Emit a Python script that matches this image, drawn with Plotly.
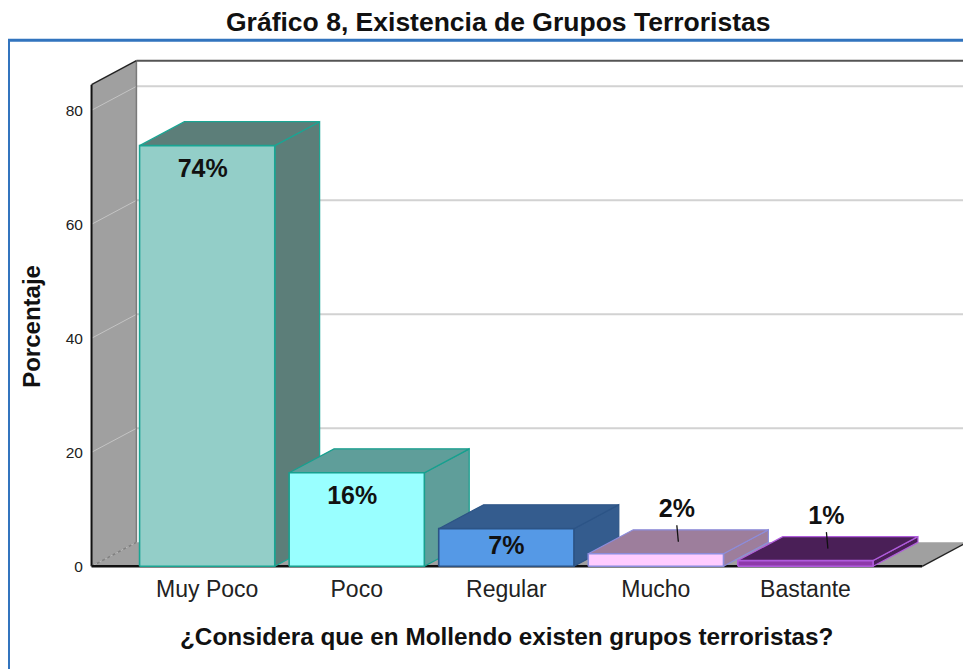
import plotly.graph_objects as go

# ---------------- data ----------------
categories = ["Muy Poco", "Poco", "Regular", "Mucho", "Bastante"]
values = [73.8, 16.4, 6.6, 2.2, 1.0]
labels = ["74%", "16%", "7%", "2%", "1%"]
y_ticks = [0, 20, 40, 60, 80]

title_text = "Gráfico 8, Existencia de Grupos Terroristas"
x_title = "¿Considera que en Mollendo existen grupos terroristas?"
y_title = "Porcentaje"

# ---------------- styles ----------------
front_colors = ["#93CEC8", "#99FFFF", "#5599E6", "#FFCCFF", "#8E3AAA"]
face_colors = ["#5C7E79", "#5F9E9A", "#345C8E", "#9D7E9C", "#4A1F57"]
edge_colors = ["#1AA593", "#17A08F", "#2C5486", "#8C8CDC", "#B05CDC"]
FONT = "Liberation Sans, Arial, sans-serif"

PAGE_W, PAGE_H = 971, 669
OFF = 8                           # default page body margin
W, H = PAGE_W - OFF, PAGE_H - OFF
PX_X, PX_Y = 149.5, 5.7          # pixels per data unit
X_RANGE = [-0.79, 5.1]
Y_RANGE = [-0.3, 89.0]
HW = 0.452                        # half bar width (category units)
DX, DY = 0.30, 4.2                # 3-D depth offset (data units)
WX0, WX1, WTOP = -0.773, 5.08, 84.5

plot_w = (X_RANGE[1] - X_RANGE[0]) * PX_X
plot_h = (Y_RANGE[1] - Y_RANGE[0]) * PX_Y
ml = (92 - OFF) - (WX0 - X_RANGE[0]) * PX_X
mb = H - ((566 - OFF) + (0 - Y_RANGE[0]) * PX_Y)
mr = W - ml - plot_w
mt = H - mb - plot_h


def px_x(p):
    return (p - OFF - ml) / plot_w


def px_y(p):
    return (H - mb - (p - OFF)) / plot_h


fig = go.Figure()


def poly(pts, fill, line_color=None, lw=0):
    xs = [p[0] for p in pts] + [pts[0][0]]
    ys = [p[1] for p in pts] + [pts[0][1]]
    fig.add_trace(go.Scatter(
        x=xs, y=ys, mode="lines", fill="toself", fillcolor=fill,
        line=dict(color=line_color or fill, width=lw),
        hoverinfo="skip", showlegend=False))


def seg(p0, p1, color, lw, dash="solid"):
    fig.add_trace(go.Scatter(
        x=[p0[0], p1[0]], y=[p0[1], p1[1]], mode="lines",
        line=dict(color=color, width=lw, dash=dash),
        hoverinfo="skip", showlegend=False))


# back wall
poly([(WX0 + DX, DY), (WX1, DY), (WX1, WTOP + DY), (WX0 + DX, WTOP + DY)], "#FFFFFF")
for v in y_ticks[1:]:
    seg((WX0 + DX, v + DY), (WX1, v + DY), "#D2D2D2", 2)
seg((WX0 + DX, WTOP + DY), (WX1, WTOP + DY), "#555555", 2)
seg((WX1, DY), (WX1, WTOP + DY), "#8A8A8A", 2.5)

# left wall
poly([(WX0, 0), (WX0, WTOP), (WX0 + DX, WTOP + DY), (WX0 + DX, DY)], "#A0A0A0")
for v in y_ticks[1:]:
    seg((WX0, v), (WX0 + DX, v + DY), "#C4C4C4", 1)
seg((WX0 + DX, DY), (WX0 + DX, WTOP + DY), "#7A7A7A", 1.5)
seg((WX0, WTOP), (WX0 + DX, WTOP + DY), "#222222", 1.5)
seg((WX0, 0), (WX0, WTOP), "#111111", 2)

# floor
poly([(WX0, 0), (WX1 - DX, 0), (WX1, DY), (WX0 + DX, DY)], "#A0A0A0")
seg((WX0, 0), (WX0 + DX, DY), "#808080", 1.5, "dot")
seg((WX1 - DX, 0), (WX1, DY), "#222222", 1.5)
seg((WX0, 0), (WX1 - DX, 0), "#111111", 2.5)

# bars
for i, v in enumerate(values):
    c = i
    ec = edge_colors[i]
    poly([(c + HW, 0), (c + HW + DX, DY), (c + HW + DX, v + DY), (c + HW, v)],
         face_colors[i], ec, 1.2)
    poly([(c - HW, v), (c + HW, v), (c + HW + DX, v + DY), (c - HW + DX, v + DY)],
         face_colors[i], ec, 1.2)
    poly([(c - HW, 0), (c + HW, 0), (c + HW, v), (c - HW, v)],
         front_colors[i], ec, 1.6)

# value labels
lx, ly = [], []
for i, v in enumerate(values):
    if v >= 10:
        lx.append(i - 0.03)
        ly.append(v - 4.4)
    elif v >= 5:
        lx.append(i)
        ly.append(v / 2)
    else:
        x0 = i + DX / 2
        y0 = v + DY / 2
        seg((x0, y0), (x0 - 0.01, y0 + 2.9), "#111111", 1.3)
        lx.append(x0 - 0.01)
        ly.append(y0 + 2.9 + 2.6)

fig.add_trace(go.Scatter(
    x=lx, y=ly, mode="text", text=[f"<b>{t}</b>" for t in labels],
    textposition="middle center",
    textfont=dict(family=FONT, size=25, color="#111111"),
    hoverinfo="skip", showlegend=False, cliponaxis=False))

fig.update_layout(
    width=W, height=H,
    margin=dict(l=ml, r=mr, t=mt, b=mb, pad=0, autoexpand=False),
    paper_bgcolor="white", plot_bgcolor="white",
    font=dict(family=FONT, color="#222222"),
    xaxis=dict(range=X_RANGE, showgrid=False, zeroline=False, showline=False,
               tickvals=list(range(len(categories))), ticktext=categories,
               ticks="outside", ticklen=0, tickcolor="rgba(0,0,0,0)",
               tickfont=dict(family=FONT, size=23, color="#222222"),
               fixedrange=True),
    yaxis=dict(range=Y_RANGE, showgrid=False, zeroline=False, showline=False,
               tickvals=y_ticks, ticks="outside", ticklen=2,
               tickcolor="rgba(0,0,0,0)",
               tickfont=dict(family=FONT, size=15.5, color="#222222"),
               fixedrange=True),
    shapes=[dict(type="rect", xref="paper", yref="paper",
                 x0=px_x(9), x1=px_x(990), y0=px_y(700), y1=px_y(40),
                 line=dict(color="#3274BE", width=3), fillcolor="rgba(0,0,0,0)",
                 layer="above")],
    annotations=[
        dict(text=f"<b>{title_text}</b>", xref="paper", yref="paper",
             x=px_x(498), y=px_y(22), xanchor="center", yanchor="middle",
             showarrow=False,
             font=dict(family=FONT, size=26.5, color="#111111")),
        dict(text=f"<b>{x_title}</b>", xref="paper", yref="paper",
             x=px_x(507), y=px_y(636), xanchor="center", yanchor="middle",
             showarrow=False,
             font=dict(family=FONT, size=24.3, color="#111111")),
        dict(text=f"<b>{y_title}</b>", xref="paper", yref="paper",
             x=px_x(32), y=px_y(326), xanchor="center", yanchor="middle",
             showarrow=False, textangle=-90,
             font=dict(family=FONT, size=24, color="#111111")),
    ],
)

fig.write_html("out.html")
